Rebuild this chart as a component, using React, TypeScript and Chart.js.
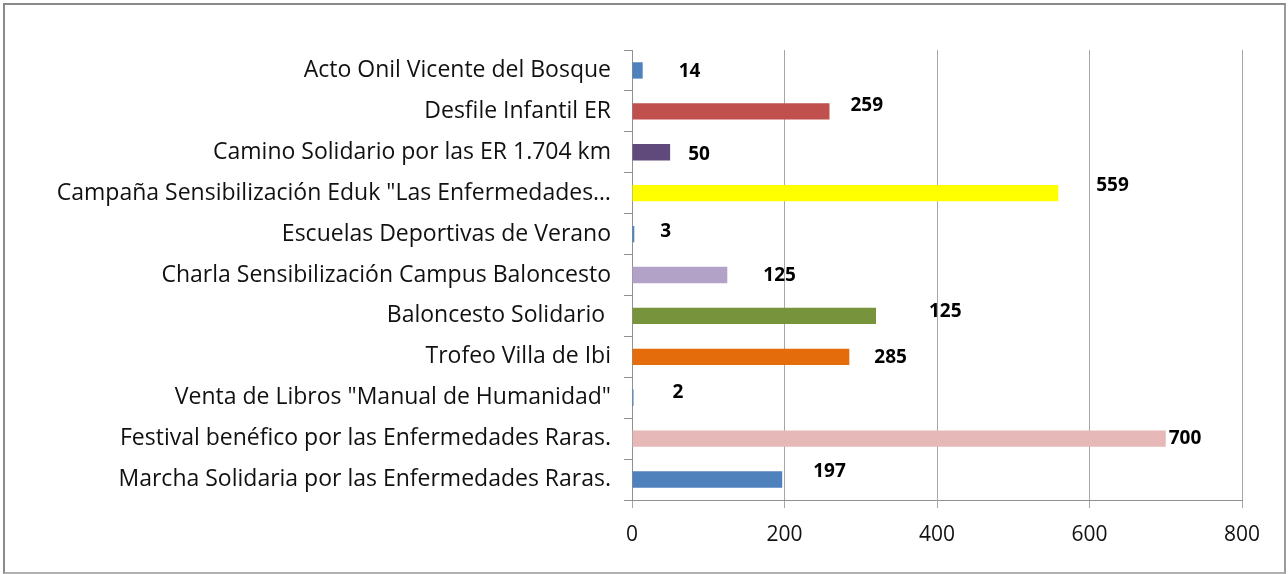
import React, { useEffect, useRef } from "react";
import { Chart, registerables } from "chart.js";

Chart.register(...registerables);

const categories = [
  "Acto Onil Vicente del Bosque",
  "Desfile Infantil ER",
  "Camino Solidario por las ER 1.704 km",
  "Campaña Sensibilización Eduk \"Las Enfermedades…",
  "Escuelas Deportivas de Verano",
  "Charla Sensibilización Campus Baloncesto",
  "Baloncesto Solidario ",
  "Trofeo Villa de Ibi",
  "Venta de Libros \"Manual de Humanidad\"",
  "Festival benéfico por las Enfermedades Raras.",
  "Marcha Solidaria por las Enfermedades Raras.",
];

const barValues = [14, 259, 50, 559, 3, 125, 320, 285, 2, 700, 197];
const labelValues = ["14", "259", "50", "559", "3", "125", "125", "285", "2", "700", "197"];
const xTicks = [0, 200, 400, 600, 800];

const barColors = [
  "#4f81bd", "#c0504d", "#604a7b", "#ffff00", "#4f81bd", "#b3a2c7",
  "#77933c", "#e46c0a", "#4f81bd", "#e6b9b8", "#4f81bd",
];

// label placement offsets (px) relative to bar end / bar centre
const labelOffsets: [number, number][] = [
  [36, 1], [21, -6], [18, 2], [38, -8], [26, -2], [36, 1],
  [53, -4], [25, 1], [39, -5], [3, 0], [31, -8],
];

const FONT = "'Open Sans', 'Noto Sans', sans-serif";

export default function App() {
  const ref = useRef<HTMLCanvasElement | null>(null);

  useEffect(() => {
    document.body.style.margin = "0";
    const labelPlugin = {
      id: "customLabels",
      afterDatasetsDraw(chart: any) {
        const ctx = chart.ctx;
        const meta = chart.getDatasetMeta(0);
        ctx.save();
        ctx.font = `bold 19px ${FONT}`;
        ctx.fillStyle = "#000";
        ctx.textAlign = "left";
        ctx.textBaseline = "middle";
        meta.data.forEach((el: any, i: number) => {
          const [dx, dy] = labelOffsets[i];
          ctx.fillText(labelValues[i], el.x + dx, el.y + dy);
        });
        ctx.restore();
      },
    };

    const chart = new Chart(ref.current!, {
      type: "bar",
      data: {
        labels: categories,
        datasets: [
          {
            data: barValues,
            backgroundColor: barColors,
            borderWidth: 0,
            barPercentage: 0.4,
            categoryPercentage: 1,
          },
        ],
      },
      options: {
        indexAxis: "y",
        animation: false,
        responsive: false,
        maintainAspectRatio: false,
        layout: { padding: { top: 50, right: 46, left: 0, bottom: 0 } },
        plugins: { legend: { display: false }, tooltip: { enabled: false } },
        scales: {
          x: {
            min: 0,
            max: 800,
            afterBuildTicks: (scale: any) => {
              scale.ticks = xTicks.map((v) => ({ value: v }));
            },
            afterFit: (scale: any) => {
              scale.height = 74;
            },
            grid: {
              color: "#a6a6a6",
              lineWidth: 1,
              tickLength: 8,
              drawTicks: true,
            },
            border: { color: "#909090", width: 1 },
            ticks: {
              color: "#111",
              font: { family: FONT, size: 21 },
              padding: 14,
            },
          },
          y: {
            afterFit: (scale: any) => {
              scale.width = 632;
            },
            grid: {
              display: true,
              drawOnChartArea: false,
              offset: true,
              color: "#909090",
              tickLength: 8,
            },
            border: { color: "#909090", width: 1 },
            ticks: {
              color: "#111",
              font: { family: FONT, size: 23 },
              padding: 13,
              autoSkip: false,
            },
          },
        },
      },
      plugins: [labelPlugin],
    });
    return () => chart.destroy();
  }, []);

  return (
    <div style={{ position: "relative", width: 1288, height: 574, background: "#fff" }}>
      <canvas ref={ref} width={1288} height={574} style={{ position: "absolute", left: 0, top: 0 }} />
      <div
        style={{
          position: "absolute",
          left: 3,
          top: 3,
          width: 1279,
          height: 567,
          borderTop: "2px solid #8a8a8a",
          borderLeft: "2px solid #8a8a8a",
          borderRight: "2px solid #9a9a9a",
          borderBottom: "2px solid #b0b0b0",
          pointerEvents: "none",
        }}
      />
    </div>
  );
}
